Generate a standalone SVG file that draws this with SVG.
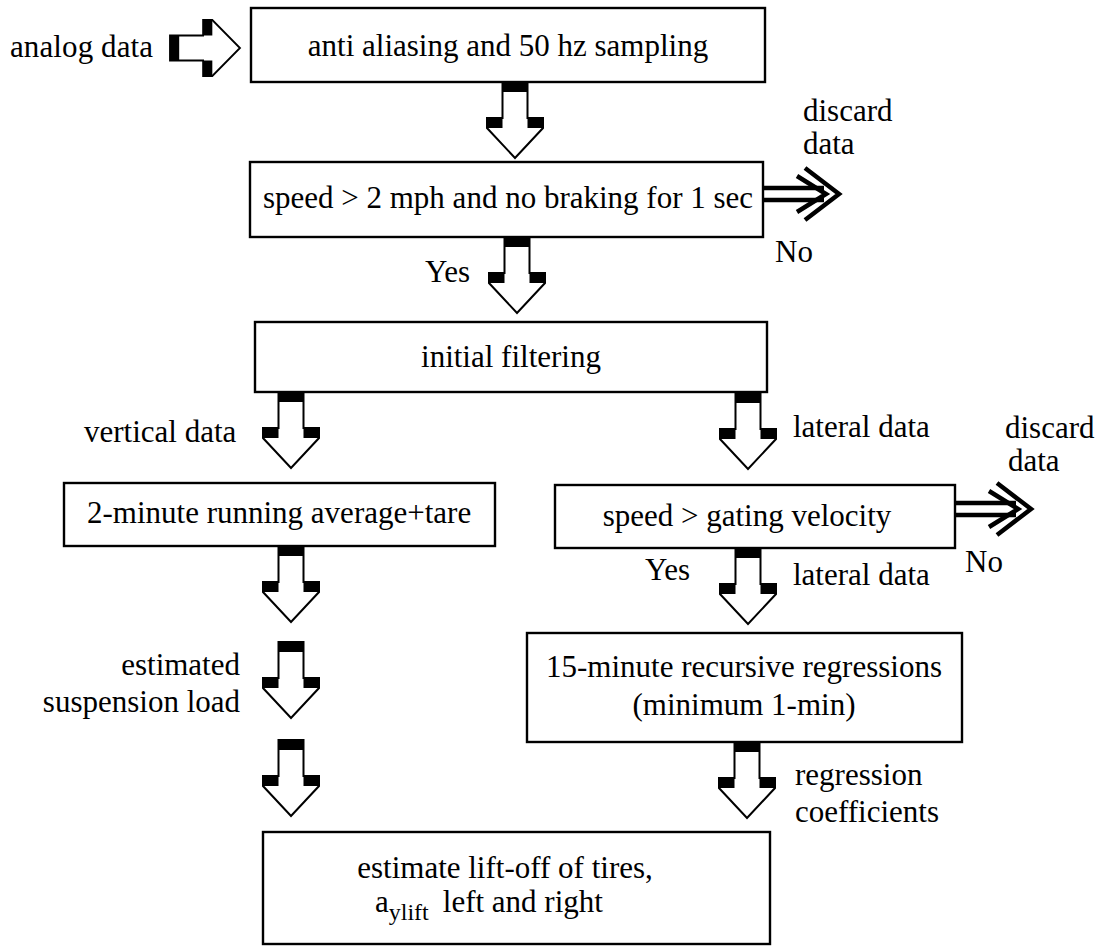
<svg xmlns="http://www.w3.org/2000/svg" xmlns:xlink="http://www.w3.org/1999/xlink" width="1106" height="947" viewBox="0 0 1106 947">
<style>
text{font-family:"Liberation Serif","DejaVu Serif","Times New Roman",serif;font-size:31px;fill:#000}
.c{text-anchor:middle}
.e{text-anchor:end}
.box{fill:#fff;stroke:#000;stroke-width:2.4}
.ao{fill:#fff;stroke:#000;stroke-width:2;stroke-linejoin:miter}
.dl{fill:none;stroke:#000;stroke-width:4.5;stroke-linecap:butt}
</style>
<defs>
<g id="dar">
<polygon class="ao" points="-12.5,0 -12.5,36 -28,36 -28,46 0,76 28,46 28,36 12.5,36 12.5,0"/>
<rect x="-12.5" y="0" width="25" height="10" fill="#000"/>
<rect x="-28" y="36" width="15.5" height="10" fill="#000"/>
<rect x="12.5" y="36" width="15.5" height="10" fill="#000"/>
</g>
</defs>
<rect width="1106" height="947" fill="#fff"/>

<g id="connectors">
<use xlink:href="#dar" transform="translate(170,48) rotate(-90) scale(1,0.92)"/>
<use xlink:href="#dar" transform="translate(515,82)"/>
<use xlink:href="#dar" transform="translate(517,237)"/>
<use xlink:href="#dar" transform="translate(291,392)"/>
<use xlink:href="#dar" transform="translate(748,393)"/>
<use xlink:href="#dar" transform="translate(291,546)"/>
<use xlink:href="#dar" transform="translate(748,548)"/>
<use xlink:href="#dar" transform="translate(291,642)"/>
<use xlink:href="#dar" transform="translate(291,740)"/>
<use xlink:href="#dar" transform="translate(747,742)"/>
<g id="discard1">
<path class="dl" d="M763,188 H824 M763,200 H824"/>
<path class="dl" d="M797,176 L826,194 L797,212"/>
<path class="dl" d="M805,168 L839,194 L805,220"/>
</g>
<g id="discard2">
<path class="dl" d="M955,503 H1016 M955,515 H1016"/>
<path class="dl" d="M989,491 L1018,509 L989,527"/>
<path class="dl" d="M997,483 L1031,509 L997,535"/>
</g>
</g>

<text x="10" y="57" textLength="143">analog data</text>

<g id="n1"><rect class="box" x="251" y="8" width="514" height="74"/>
<text class="c" x="508" y="56">anti aliasing and 50 hz sampling</text></g>

<g id="n2"><rect class="box" x="250" y="162" width="513" height="75"/>
<text class="c" x="508" y="208">speed &gt; 2 mph and no braking for 1 sec</text></g>

<text x="803" y="121">discard</text>
<text x="803" y="154">data</text>
<text x="775" y="262">No</text>
<text class="e" x="470" y="282">Yes</text>

<g id="n3"><rect class="box" x="255" y="322" width="512" height="70"/>
<text class="c" x="511" y="367">initial filtering</text></g>

<text x="84" y="442">vertical data</text>
<text x="793" y="437">lateral data</text>
<text x="1005" y="438">discard</text>
<text x="1008" y="471">data</text>

<g id="n4"><rect class="box" x="64" y="483" width="431" height="63"/>
<text x="87" y="523">2-minute running average+tare</text></g>

<g id="n5"><rect class="box" x="555" y="485" width="400" height="63"/>
<text class="c" x="747" y="526">speed  &gt; gating velocity</text></g>

<text x="965" y="572">No</text>
<text class="e" x="690" y="580">Yes</text>
<text x="793" y="585">lateral data</text>

<g id="n6"><rect class="box" x="527" y="633" width="435" height="109"/>
<text class="c" x="744" y="677">15-minute recursive regressions</text>
<text class="c" x="744" y="715">(minimum 1-min)</text></g>

<text class="e" x="240" y="675">estimated</text>
<text class="e" x="240" y="712">suspension load</text>

<text x="795" y="785">regression</text>
<text x="795" y="822">coefficients</text>

<g id="n7"><rect class="box" x="263" y="832" width="507" height="112"/>
<text class="c" x="505" y="878">estimate lift-off of tires,</text>
<text x="375" y="912">a<tspan font-size="24" dy="8">ylift</tspan><tspan dy="-8" dx="14">left and right</tspan></text></g>
</svg>
